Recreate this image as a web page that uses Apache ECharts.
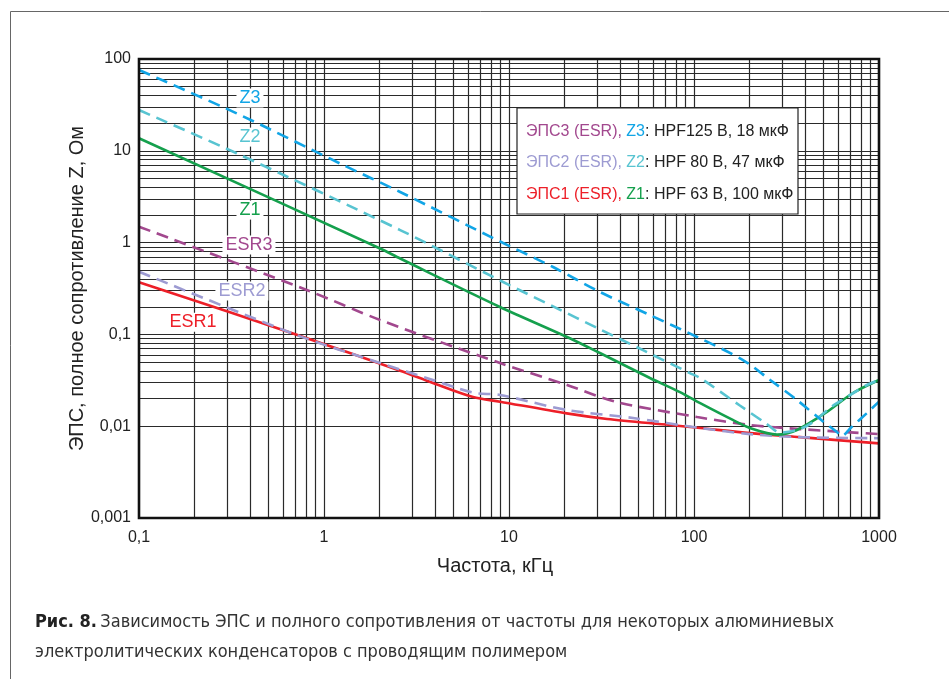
<!DOCTYPE html>
<html><head><meta charset="utf-8">
<script src="https://cdn.jsdelivr.net/npm/echarts@6/dist/echarts.min.js"></script>
<style>html,body{margin:0;padding:0;background:#fff}#c{width:949px;height:679px}</style>
</head><body><div id="c"></div>
<script>
// Tick labels
const xTickValues = [0.1, 1, 10, 100, 1000];
const xTickLabels = ['0,1', '1', '10', '100', '1000'];
const yTickValues = [0.001, 0.01, 0.1, 1, 10, 100];
const yTickLabels = ['0,001', '0,01', '0,1', '1', '10', '100'];

// Z3 (HPF125 V, 18 uF)
const z3Freq = [0.1, 0.337, 1.27, 2.58, 9.3, 17.3, 31, 55.7, 104, 184, 258, 360, 500, 590, 628, 711, 857, 1000];
const z3Val  = [75.9, 25.6, 7.0, 3.56, 0.99, 0.542, 0.29, 0.168, 0.0938, 0.0526, 0.0319, 0.0193, 0.0112, 0.0087, 0.0078, 0.0098, 0.0138, 0.0185];
// Z2 (HPF 80 V, 47 uF)
const z2Freq = [0.1, 0.337, 2.58, 9.3, 17.3, 31, 53, 95, 108, 177, 247, 292, 374, 440, 543, 671, 861, 1000];
const z2Val  = [27.8, 9.4, 1.37, 0.372, 0.202, 0.1137, 0.0673, 0.0379, 0.0335, 0.0168, 0.0106, 0.0085, 0.0093, 0.0111, 0.0158, 0.0208, 0.0281, 0.0319];
// Z1 (HPF 63 V, 100 uF)
const z1Freq = [0.1, 2.01, 2.58, 8.94, 20.6, 31, 57.8, 84, 108, 162, 208, 281, 360, 523, 723, 1000];
const z1Val  = [13.7, 0.862, 0.671, 0.199, 0.0937, 0.0627, 0.0335, 0.0235, 0.0178, 0.0117, 0.0093, 0.0081, 0.0091, 0.0143, 0.023, 0.0319];
// ESR3
const esr3Freq = [0.1, 0.806, 2.01, 8.94, 20.6, 38.4, 104, 201, 374, 1000];
const esr3Val  = [1.49, 0.305, 0.1435, 0.0488, 0.0281, 0.0183, 0.0126, 0.0103, 0.0093, 0.0082];
// ESR2
const esr2Freq = [0.1, 0.712, 2.01, 3.88, 6.39, 8.94, 20.6, 46.8, 108, 201, 374, 1000];
const esr2Val  = [0.482, 0.0985, 0.0488, 0.0319, 0.0232, 0.0219, 0.015, 0.0123, 0.00955, 0.0082, 0.0076, 0.0074];
// ESR1
const esr1Freq = [0.1, 0.712, 2.58, 3.88, 6.39, 8.94, 20.5, 33.9, 74.1, 108, 201, 374, 1000];
const esr1Val  = [0.37, 0.0993, 0.0402, 0.0296, 0.0208, 0.0185, 0.0138, 0.012, 0.0103, 0.00955, 0.0084, 0.0076, 0.0065];

// Curve label anchors (data coords)
const labelNames = ['Z3', 'Z2', 'Z1', 'ESR3', 'ESR2', 'ESR1'];
const labelFreq  = [0.398, 0.398, 0.398, 0.393, 0.36, 0.196];
const labelVal   = [37.6, 14.1, 2.26, 0.942, 0.297, 0.136];

const C = {
  z3: '#11a5e6', z2: '#58c4d1', z1: '#15a04d',
  esr3: '#a2488e', esr2: '#9d9bd2', esr1: '#ed1f28', grid: '#2a2a2a'
};
const FONT = '"Liberation Sans", Arial, Helvetica, sans-serif';
const CAPFONT = '"Liberation Sans Narrow", "DejaVu Sans Condensed", sans-serif';

function pairs(f, v) { return f.map((x, i) => [x, v[i]]); }
function fmt(values, labels) {
  return function (v) {
    let best = 0, bd = 1e9;
    values.forEach((t, i) => { const d = Math.abs(Math.log10(t) - Math.log10(v)); if (d < bd) { bd = d; best = i; } });
    return labels[best];
  };
}
const minorX = [], minorY = [];
for (let e = -1; e < 3; e++) for (let m = 2; m <= 9; m++) minorX.push(m * Math.pow(10, e));
for (let e = -3; e < 2; e++) for (let m = 2; m <= 9; m++) minorY.push(m * Math.pow(10, e));
const majorX = xTickValues.slice(1, -1), majorY = yTickValues.slice(1, -1);

function curve(name, f, v, color, dashed, li) {
  return {
    name, type: 'line', data: pairs(f, v), showSymbol: false, symbol: 'none',
    smooth: 0.3, z: 5, silent: true,
    lineStyle: { color, width: 2.6, type: dashed ? [12, 7] : 'solid', cap: 'butt' },
    markPoint: {
      silent: true, symbol: 'rect', symbolSize: 1, itemStyle: { color: 'rgba(0,0,0,0)' },
      label: {
        show: true, position: 'inside', formatter: labelNames[li], color,
        fontSize: 18, fontFamily: FONT, backgroundColor: '#fff', padding: [1, 3, 0, 3]
      },
      data: [{ coord: [labelFreq[li], labelVal[li]] }]
    }
  };
}
function legendRow(top, t1, t2, t3, c1, c2) {
  const st = (c) => ({ fill: c, fontSize: 16, fontFamily: FONT });
  return { type: 'text', z: 21, left: 526, top, style: {
    text: '{a|' + t1 + '}{b|' + t2 + '}{c|' + t3 + '}',
    rich: { a: st(c1), b: st(c2), c: st('#222') } } };
}

const chart = echarts.init(document.getElementById('c'));
chart.setOption({
  animation: false,
  textStyle: { fontFamily: FONT },
  grid: { left: 139, right: 70, top: 59, bottom: 161, show: true, borderColor: '#111', borderWidth: 2.6, backgroundColor: 'transparent', z: 10 },
  xAxis: {
    type: 'log', logBase: 10, min: 0.1, max: 1000, splitNumber: 4,
    name: 'Частота, кГц', nameLocation: 'middle', nameGap: 38, nameMoveOverlap: false,
    nameTextStyle: { fontSize: 20, color: '#222', padding: [0, 28, 0, 0] },
    axisLine: { show: false }, axisTick: { show: false },
    axisLabel: { fontSize: 16, color: '#222', margin: 12, formatter: fmt(xTickValues, xTickLabels) },
    splitLine: { show: false }, minorTick: { show: false }
  },
  yAxis: {
    type: 'log', logBase: 10, min: 0.001, max: 100, splitNumber: 5,
    name: 'ЭПС, полное сопротивление Z, Ом', nameLocation: 'middle', nameGap: 52, nameMoveOverlap: false,
    nameTextStyle: { fontSize: 20, color: '#222' },
    axisLine: { show: false }, axisTick: { show: false },
    axisLabel: { fontSize: 16, color: '#222', margin: 8, formatter: fmt(yTickValues, yTickLabels) },
    splitLine: { show: false }, minorTick: { show: false }
  },
  series: [
    {
      name: 'gridlines', type: 'line', data: [[1, 1]], symbol: 'none', silent: true, z: 1,
      lineStyle: { opacity: 0 },
      markLine: {
        silent: true, symbol: 'none', animation: false, label: { show: false },
        lineStyle: { color: C.grid, width: 1.2, type: 'solid' },
        data: minorX.concat(majorX).map(v => ({ xAxis: v })).concat(minorY.concat(majorY).map(v => ({ yAxis: v })))
      }
    },
    curve('ESR1', esr1Freq, esr1Val, C.esr1, false, 5),
    curve('ESR2', esr2Freq, esr2Val, C.esr2, true, 4),
    curve('ESR3', esr3Freq, esr3Val, C.esr3, true, 3),
    curve('Z1', z1Freq, z1Val, C.z1, false, 2),
    curve('Z2', z2Freq, z2Val, C.z2, true, 1),
    curve('Z3', z3Freq, z3Val, C.z3, true, 0)
  ],
  graphic: [
    { type: 'rect', z: 0, shape: { x: 10.5, y: 11.5, width: 1000, height: 1000 }, style: { fill: 'none', stroke: '#666', lineWidth: 1 } },
    { type: 'rect', z: 20, shape: { x: 517, y: 108, width: 281, height: 106 }, style: { fill: '#fff', stroke: '#222', lineWidth: 1.2 } },
    legendRow(124, 'ЭПС3 (ESR), ', 'Z3', ': HPF125 В, 18 мкФ', C.esr3, C.z3),
    legendRow(155, 'ЭПС2 (ESR), ', 'Z2', ': HPF 80 В, 47 мкФ', C.esr2, C.z2),
    legendRow(187, 'ЭПС1 (ESR), ', 'Z1', ': HPF 63 В, 100 мкФ', C.esr1, C.z1),
    { type: 'text', z: 21, left: 35, top: 613, style: {
        text: '{b|Рис. 8.} {r|Зависимость ЭПС и полного сопротивления от частоты для некоторых алюминиевых}',
        rich: {
          b: { fill: '#222', fontSize: 18, fontWeight: 'bold', fontFamily: CAPFONT },
          r: { fill: '#333', fontSize: 18, fontFamily: CAPFONT } } } },
    { type: 'text', z: 21, left: 35, top: 643, style: {
        text: 'электролитических конденсаторов с проводящим полимером',
        fill: '#333', fontSize: 18, fontFamily: CAPFONT } }
  ]
});
</script>
</body></html>
